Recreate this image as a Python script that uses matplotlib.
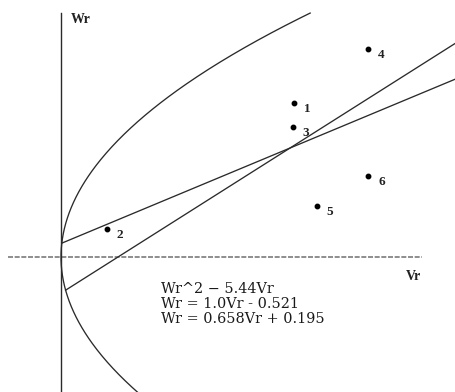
import numpy as np
import matplotlib
matplotlib.use("Agg")
import matplotlib.pyplot as plt

# Observations (Vr, Wr) and their labels
point_labels = ["1", "2", "3", "4", "5", "6"]
vr_points = [2.13, 0.42, 2.12, 2.81, 2.34, 2.81]
wr_points = [2.22, 0.40, 1.87, 3.00, 0.74, 1.17]

# Fitted curves
parab_coef = 5.44            # Wr^2 = 5.44 Vr
line1_slope, line1_icpt = 1.0, -0.521
line2_slope, line2_icpt = 0.658, 0.195

equation_lines = ["Wr^2 \u2212 5.44Vr",
                  "Wr = 1.0Vr - 0.521",
                  "Wr = 0.658Vr + 0.195"]

W, H = 455, 392
fig = plt.figure(figsize=(W / 100, H / 100), dpi=100)
ax = fig.add_axes([0, 0, 1, 1])
ax.set_axis_off()

# pixel-to-data layout of the drawing area
x_origin_px, y_origin_px = 61.0, 257.0
sx, sy = 109.4, 69.3
ax.set_xlim(-x_origin_px / sx, (W - x_origin_px) / sx)
ax.set_ylim((y_origin_px - H) / sy, y_origin_px / sy)

ink = "#2a2a2a"

# axes through the origin
ax.plot([-0.485, 3.30], [0, 0], color="#7a7a7a", lw=1.2,
        linestyle=(0, (3, 1)))
ax.plot([0, 0], [-2.5, 3.52], color=ink, lw=1.0)

# parabola Wr^2 = k Vr
w = np.linspace(-2.5, 3.52, 400)
ax.plot(w ** 2 / parab_coef, w, color=ink, lw=0.95)


def line_start(m, b):
    # Where the straight line meets the parabola (root nearest the origin)
    # Wr = m*Wr^2/k + b  ->  (m/k) Wr^2 - Wr + b = 0
    a = m / parab_coef
    disc = np.sqrt(1 - 4 * a * b)
    roots = [(1 - disc) / (2 * a), (1 + disc) / (2 * a)]
    wr = min(roots, key=abs)
    return wr ** 2 / parab_coef


for m, b in [(line1_slope, line1_icpt), (line2_slope, line2_icpt)]:
    v0 = line_start(m, b)
    v = np.array([v0, 4.0])
    ax.plot(v, m * v + b, color=ink, lw=0.95)

# data points with labels
ax.plot(vr_points, wr_points, "o", color="black", ms=3.2)
for lab, v, wv in zip(point_labels, vr_points, wr_points):
    ax.annotate(lab, (v, wv), xytext=(13, -6), textcoords="offset pixels",
                fontsize=9.5, family="Liberation Serif", fontweight="bold",
                color="#222222", ha="center", va="center")


def fx(px):
    return px / W


def fy(py):
    return 1 - py / H


serif = "Liberation Serif"
fig.text(fx(71), fy(19.5), "Wr", fontsize=10, family=serif, fontweight="bold",
         color="#222222", ha="left", va="center")
fig.text(fx(406), fy(277), "Vr", fontsize=10, family=serif, fontweight="bold",
         color="#222222", ha="left", va="center")

for i, s in enumerate(equation_lines):
    fig.text(fx(161), fy(289 + 15 * i), s, fontsize=10.4, family="DejaVu Serif",
             color="#1a1a1a", ha="left", va="center")

fig.savefig("out.png", dpi=100)
